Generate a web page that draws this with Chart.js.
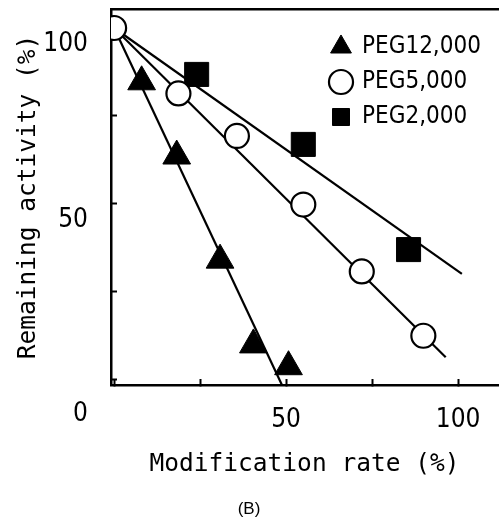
<!DOCTYPE html>
<html>
<head>
<meta charset="utf-8">
<script src="https://cdn.jsdelivr.net/npm/chart.js@4.4.1/dist/chart.umd.min.js"></script>
<style>
  html, body { margin: 0; padding: 0; background: #fff; }
  #wrap { width: 499px; height: 526px; }
</style>
</head>
<body>
<div id="wrap"><canvas id="c" width="499" height="526"></canvas></div>
<script>
// ---- data ----
const seriesNames = ['PEG12,000', 'PEG5,000', 'PEG2,000'];

const peg12X = [8.0, 18.2, 30.8, 40.5, 50.7];
const peg12Y = [84.7, 63.6, 34.0, 9.9, 3.7];

const peg5X = [0, 18.7, 35.7, 55.0, 72.0, 89.9];
const peg5Y = [100, 81.4, 69.3, 49.8, 30.8, 12.5];

const peg2X = [24.0, 55.0, 85.6];
const peg2Y = [86.8, 66.9, 37.0];

// straight fitted lines (end points)
const fit12X = [0, 48.8];
const fit12Y = [100, -1.5];
const fit5X = [0, 96.4];
const fit5Y = [100, 6.4];
const fit2X = [0, 101.1];
const fit2Y = [100, 30.1];

// axis ticks
const xTickValues = [0, 25, 50, 75, 100];
const xTickLabels = ['', '', '50', '', '100'];
const yTickValues = [0, 25, 50, 75, 100];
const yTickLabels = ['0', '', '50', '', '100'];

const xTitle = 'Modification rate (%)';
const yTitle = 'Remaining activity (%)';
const panelLabel = '(B)';

// ---- helpers ----
const pts = (xs, ys) => xs.map((x, i) => ({ x: x, y: ys[i] }));

const narrow = "'Liberation Sans Narrow', 'DejaVu Sans Condensed', 'Liberation Sans', sans-serif";
const mono = "'DejaVu Sans Mono', 'Liberation Mono', monospace";

const noPad = (s) => { s.paddingTop = 0; s.paddingBottom = 0; s.paddingLeft = 0; s.paddingRight = 0; };

const legendPlace = {
  id: 'legendPlace',
  afterLayout(chart) {
    const lg = chart.legend;
    if (lg) {
      lg.left = chart.chartArea.right - 177;
      lg.top = chart.chartArea.top + 15;
    }
  }
};

new Chart(document.getElementById('c'), {
  type: 'scatter',
  data: {
    datasets: [
      {
        label: seriesNames[0],
        data: pts(peg12X, peg12Y),
        pointStyle: 'triangle',
        pointRadius: 16,
        pointBackgroundColor: '#000',
        pointBorderColor: '#000',
        backgroundColor: '#000',
        borderColor: '#000',
        pointBorderWidth: 1
      },
      {
        label: seriesNames[1],
        data: pts(peg5X, peg5Y),
        pointStyle: 'circle',
        pointRadius: 12,
        pointBackgroundColor: '#fff',
        pointBorderColor: '#000',
        backgroundColor: '#fff',
        borderColor: '#000',
        pointBorderWidth: 2.2
      },
      {
        label: seriesNames[2],
        data: pts(peg2X, peg2Y),
        pointStyle: 'rect',
        pointRadius: 17,
        pointBackgroundColor: '#000',
        pointBorderColor: '#000',
        backgroundColor: '#000',
        borderColor: '#000',
        pointBorderWidth: 1
      },
      {
        label: 'fit12',
        data: pts(fit12X, fit12Y),
        showLine: true, pointRadius: 0, borderColor: '#000', borderWidth: 2.2, fill: false
      },
      {
        label: 'fit5',
        data: pts(fit5X, fit5Y),
        showLine: true, pointRadius: 0, borderColor: '#000', borderWidth: 2.2, fill: false
      },
      {
        label: 'fit2',
        data: pts(fit2X, fit2Y),
        showLine: true, pointRadius: 0, borderColor: '#000', borderWidth: 2.2, fill: false
      }
    ]
  },
  options: {
    responsive: false,
    animation: false,
    layout: { autoPadding: false, padding: { left: 0, right: 1, top: 9, bottom: 0 } },
    plugins: {
      tooltip: { enabled: false },
      legend: {
        position: 'chartArea',
        align: 'start',
        labels: {
          usePointStyle: true,
          boxWidth: 18,
          boxHeight: 17,
          padding: 11,
          color: '#000',
          font: { family: narrow, size: 24 },
          filter: (item) => item.datasetIndex < 3
        }
      },
      title: {
        display: true,
        position: 'bottom',
        text: panelLabel,
        color: '#000',
        font: { family: "'Liberation Sans', Arial, sans-serif", size: 17, weight: 'normal' },
        padding: { top: 6, bottom: 6 }
      }
    },
    scales: {
      x: {
        type: 'linear',
        position: 'bottom',
        min: -0.9,
        max: 111.6,
        afterBuildTicks: (s) => { s.ticks = xTickValues.map(v => ({ value: v })); },
        afterFit: (s) => { s.height = 108.6; noPad(s); },
        ticks: {
          callback: (v) => { const i = xTickValues.indexOf(v); return i >= 0 ? xTickLabels[i] : ''; },
          color: '#000',
          padding: 26,
          maxRotation: 0,
          autoSkip: false,
          font: { family: narrow, size: 26 }
        },
        grid: { drawOnChartArea: false, tickLength: -6, tickWidth: 2, color: '#000' },
        border: { display: true, color: '#000', width: 2.5 },
        title: {
          display: true,
          text: xTitle,
          color: '#000',
          font: { family: mono, size: 24.5 },
          padding: { top: 4, bottom: 14 }
        }
      },
      xTop: {
        type: 'linear',
        position: 'top',
        min: -0.9,
        max: 111.6,
        afterFit: (s) => { s.height = 0; noPad(s); },
        ticks: { display: false },
        grid: { drawOnChartArea: false, drawTicks: false },
        border: { display: true, color: '#000', width: 2.5 }
      },
      y: {
        type: 'linear',
        position: 'left',
        min: -1.5,
        max: 105.4,
        afterBuildTicks: (s) => { s.ticks = yTickValues.map(v => ({ value: v })); },
        afterFit: (s) => { s.width = 111; noPad(s); },
        ticks: {
          callback: (v) => {
            const i = yTickValues.indexOf(v);
            const t = i >= 0 ? yTickLabels[i] : '';
            return v === 0 ? ['', t] : t;
          },
          color: '#000',
          padding: 29,
          labelOffset: 16,
          autoSkip: false,
          font: { family: narrow, size: 26, lineHeight: 1.46 }
        },
        grid: { drawOnChartArea: false, tickLength: -6, tickWidth: 2, color: '#000' },
        border: { display: true, color: '#000', width: 2.5 },
        title: {
          display: true,
          text: yTitle,
          color: '#000',
          font: { family: mono, size: 24.5 },
          padding: { top: 14, bottom: 4 }
        }
      }
    }
  },
  plugins: [legendPlace]
});
</script>
</body>
</html>
